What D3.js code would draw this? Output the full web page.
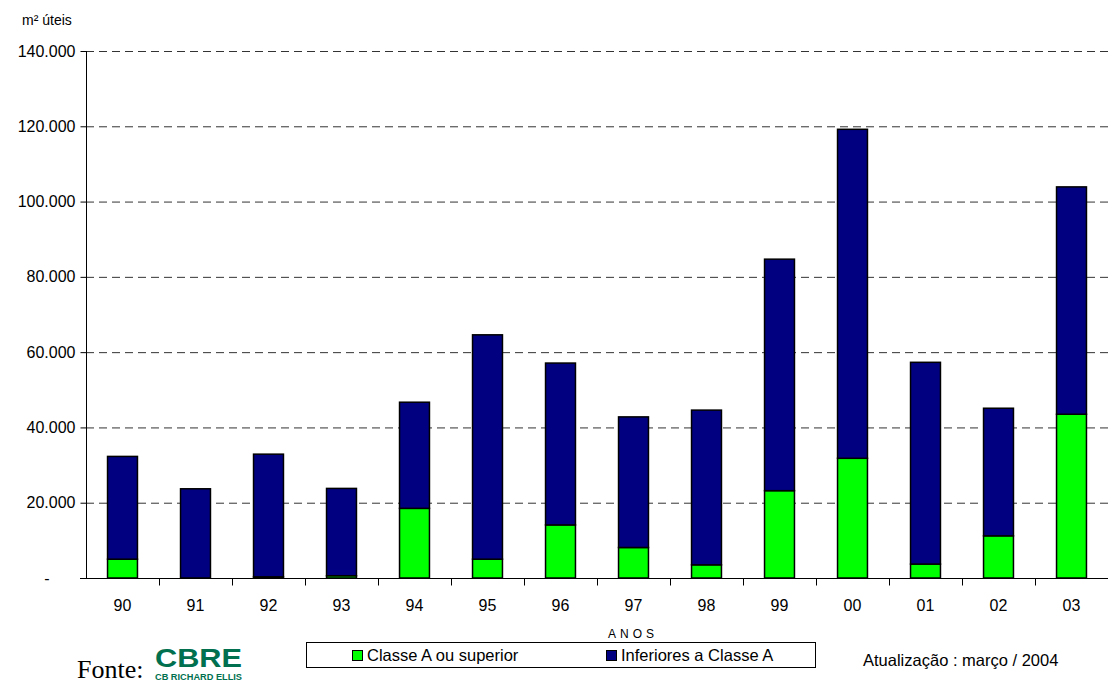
<!DOCTYPE html>
<html>
<head>
<meta charset="utf-8">
<script src="https://cdn.jsdelivr.net/npm/d3@7"></script>
<style>
  html, body { margin: 0; padding: 0; background: #fff; }
  svg { display: block; font-family: "Liberation Sans", Arial, Helvetica, sans-serif; }
</style>
</head>
<body>
<svg id="chart" width="1113" height="681"></svg>
<script>
// Anos (1990–2003)
const categories = ["90","91","92","93","94","95","96","97","98","99","00","01","02","03"];
// Área em m² úteis por classe
const classeA = [5000, 0, 300, 600, 18500, 5000, 14100, 8100, 3500, 23200, 31800, 3700, 11200, 43500];
const inferiores = [27300, 23700, 32600, 23200, 28200, 59600, 43000, 34700, 41100, 61500, 87400, 53600, 33900, 60400];
const yTicks = [0, 20000, 40000, 60000, 80000, 100000, 120000, 140000];
const seriesNames = ["Classe A ou superior", "Inferiores a Classe A"];
const seriesColors = ["#00ff00", "#000080"];

const svg = d3.select("#chart");
const plotL = 86, plotR = 1108, plotT = 51, plotB = 578;

const x = d3.scaleBand().domain(categories).range([plotL, plotR]).paddingInner(0.59).paddingOuter(0.295);
const xTick = d3.scaleBand().domain(categories).range([plotL, plotR]);
const y = d3.scaleLinear().domain([0, 140000]).range([plotB, plotT]);

const fmt = v => v === 0 ? "-" : d3.format(",")(v).replace(/,/g, ".");

// Horizontal dashed gridlines
svg.append("g").selectAll("line").data(yTicks.filter(d => d > 0)).join("line")
  .attr("x1", plotL).attr("x2", plotR)
  .attr("y1", d => y(d) + 0.5).attr("y2", d => y(d) + 0.5)
  .attr("stroke", "#333").attr("stroke-width", 1).attr("stroke-dasharray", "8,5");

// Stacked data
const rows = categories.map((c, i) => ({ cat: c, a: classeA[i], b: inferiores[i] }));
const stack = d3.stack().keys(["a", "b"])(rows);

svg.append("g").selectAll("g").data(stack).join("g")
  .attr("fill", (d, i) => seriesColors[i])
  .selectAll("rect").data(d => d.filter(s => s[1] - s[0] > 0)).join("rect")
  .attr("x", d => x(d.data.cat))
  .attr("width", x.bandwidth())
  .attr("y", d => y(d[1]))
  .attr("height", d => y(d[0]) - y(d[1]))
  .attr("stroke", "#000").attr("stroke-width", 1.5);

// Y axis
const yAxis = svg.append("g").attr("transform", `translate(${plotL + 0.5},0)`)
  .call(d3.axisLeft(y).tickValues(yTicks).tickSize(6).tickPadding(5).tickFormat(fmt));
yAxis.select(".domain").attr("stroke", "#000").attr("d", `M0,${plotB + 0.5}V${plotT}`);
yAxis.selectAll("line").attr("stroke", "#000");
yAxis.selectAll("text").attr("font-size", 16).attr("fill", "#000")
  .attr("font-family", "'Liberation Sans', Arial, sans-serif");
yAxis.selectAll(".tick").filter(d => d === 0).select("text").attr("dx", -26);

// X axis with ticks at category boundaries
const xg = svg.append("g").attr("transform", `translate(0,${plotB + 0.5})`);
xg.append("line").attr("x1", plotL - 6).attr("x2", plotR).attr("stroke", "#000");
xg.selectAll("line.t").data(categories.slice(1)).join("line").attr("class", "t")
  .attr("x1", d => xTick(d) + 0.5).attr("x2", d => xTick(d) + 0.5)
  .attr("y1", 0).attr("y2", 7).attr("stroke", "#000");
xg.selectAll("text").data(categories).join("text")
  .attr("x", d => xTick(d) + xTick.bandwidth() / 2)
  .attr("y", 32).attr("text-anchor", "middle").attr("font-size", 16).text(d => d);

// Axis titles
svg.append("text").attr("x", 22).attr("y", 25).attr("font-size", 14).text("m² úteis");
svg.append("text").attr("x", 633).attr("y", 638).attr("text-anchor", "middle")
  .attr("font-size", 12).attr("letter-spacing", 4).text("ANOS");

// Legend
const lg = svg.append("g");
lg.append("rect").attr("x", 306.5).attr("y", 642.5).attr("width", 509).attr("height", 25)
  .attr("fill", "#fff").attr("stroke", "#000");
const legX = [352, 606];
seriesNames.forEach((n, i) => {
  lg.append("rect").attr("x", legX[i] + 0.5).attr("y", 650.5).attr("width", 10).attr("height", 10)
    .attr("fill", seriesColors[i]).attr("stroke", "#000");
  lg.append("text").attr("x", legX[i] + 15).attr("y", 661).attr("font-size", 16.5).text(n);
});

// Footer
svg.append("text").attr("x", 863).attr("y", 666).attr("font-size", 16.5).text("Atualização : março / 2004");
svg.append("text").attr("x", 77).attr("y", 678).attr("font-size", 26)
  .attr("font-family", "'Liberation Serif', 'Times New Roman', serif").text("Fonte:");
svg.append("text").attr("x", 155).attr("y", 667).attr("font-size", 26).attr("font-weight", "bold")
  .attr("fill", "#00704f").attr("textLength", 87).attr("lengthAdjust", "spacingAndGlyphs").text("CBRE");
svg.append("text").attr("x", 155).attr("y", 680).attr("font-size", 9).attr("font-weight", "bold")
  .attr("fill", "#00704f").attr("textLength", 87).attr("lengthAdjust", "spacingAndGlyphs").text("CB RICHARD ELLIS");
</script>
</body>
</html>
